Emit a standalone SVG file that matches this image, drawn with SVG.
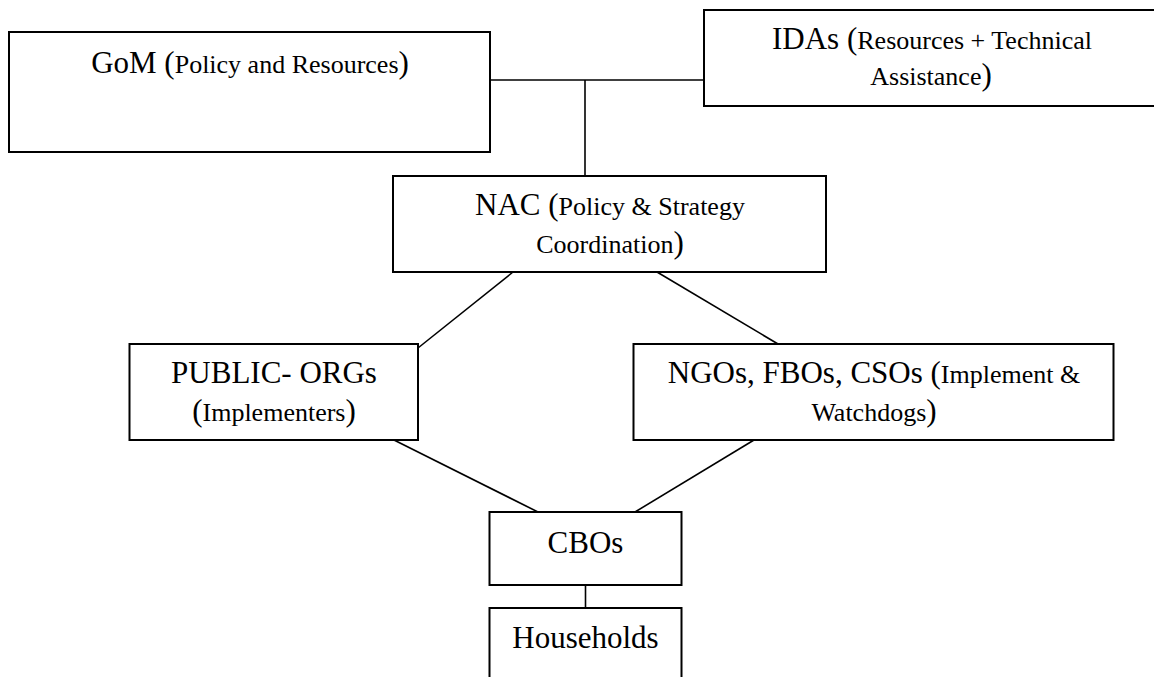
<svg xmlns="http://www.w3.org/2000/svg" width="1154" height="677" viewBox="0 0 1154 677">
<style>
.box{fill:#fff;stroke:#000;stroke-width:2}
.ln{stroke:#000;stroke-width:1.6;fill:none}
text{font-family:"Liberation Serif","Times New Roman",serif;fill:#000;text-anchor:middle}
.b{font-size:31px}
.s{font-size:26px}
</style>
<rect width="1154" height="677" fill="#fff"/>
<g id="connectors">
<line class="ln" x1="490" y1="80" x2="704" y2="80"/>
<line class="ln" x1="585" y1="80" x2="585" y2="176"/>
<line class="ln" x1="513" y1="272" x2="418" y2="348"/>
<line class="ln" x1="657" y1="272" x2="778" y2="344"/>
<line class="ln" x1="394" y1="440" x2="538" y2="512"/>
<line class="ln" x1="754" y1="440" x2="635" y2="512"/>
<line class="ln" x1="585.5" y1="585" x2="585.5" y2="608"/>
</g>
<g id="gom">
<rect class="box" x="9" y="32" width="481" height="120"/>
<text x="250" y="73"><tspan class="b">GoM (</tspan><tspan class="s">Policy and Resources</tspan><tspan class="b">)</tspan></text>
</g>
<g id="idas">
<rect class="box" x="704" y="10" width="470" height="96"/>
<text x="932" y="49"><tspan class="b">IDAs (</tspan><tspan class="s">Resources + Technical</tspan></text>
<text x="931" y="85"><tspan class="s">Assistance</tspan><tspan class="b">)</tspan></text>
</g>
<g id="nac">
<rect class="box" x="393" y="176" width="433" height="96"/>
<text x="610" y="215"><tspan class="b">NAC (</tspan><tspan class="s">Policy &amp; Strategy</tspan></text>
<text x="610" y="253"><tspan class="s">Coordination</tspan><tspan class="b">)</tspan></text>
</g>
<g id="public">
<rect class="box" x="129.5" y="344" width="288.5" height="96"/>
<text x="274" y="383"><tspan class="b">PUBLIC- ORGs</tspan></text>
<text x="274" y="421"><tspan class="b">(</tspan><tspan class="s">Implementers</tspan><tspan class="b">)</tspan></text>
</g>
<g id="ngos">
<rect class="box" x="633.5" y="344" width="480" height="96"/>
<text x="874" y="383"><tspan class="b">NGOs, FBOs, CSOs (</tspan><tspan class="s">Implement &amp;</tspan></text>
<text x="874" y="421"><tspan class="s">Watchdogs</tspan><tspan class="b">)</tspan></text>
</g>
<g id="cbos">
<rect class="box" x="489.5" y="512" width="192" height="73"/>
<text x="585.5" y="553" class="b">CBOs</text>
</g>
<g id="households">
<rect class="box" x="489.5" y="608" width="192" height="90"/>
<text x="585.5" y="648" class="b">Households</text>
</g>
</svg>
